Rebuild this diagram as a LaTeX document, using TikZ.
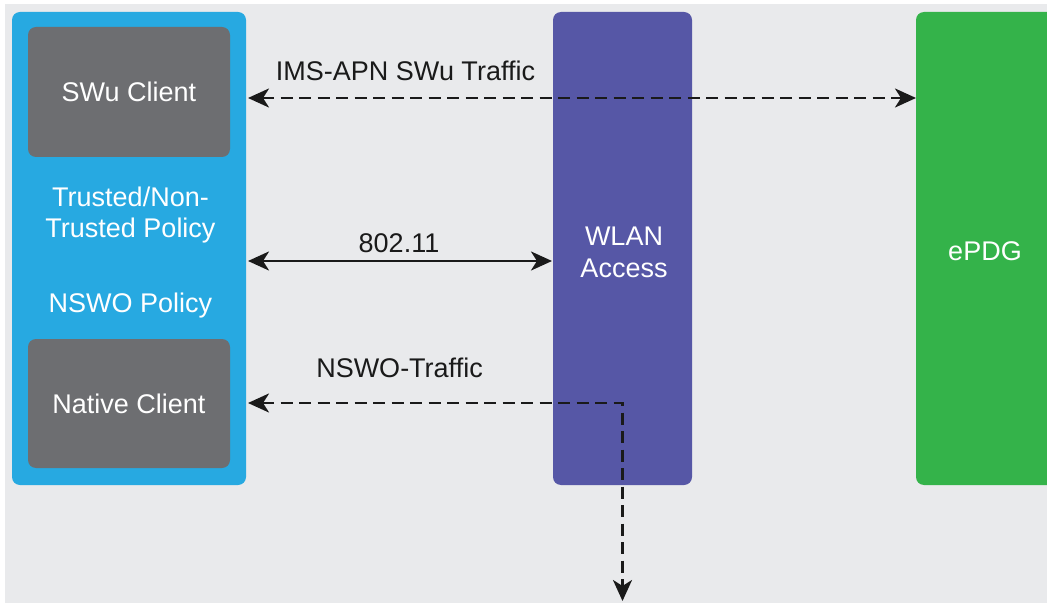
\documentclass[tikz,border=0pt]{standalone}
\usepackage{fontspec}
\setmainfont{Liberation Sans}
\usetikzlibrary{arrows.meta}
\definecolor{canvas}{HTML}{E9EAEC}
\definecolor{uecol}{HTML}{27A9E1}
\definecolor{clientcol}{HTML}{6D6E71}
\definecolor{wlancol}{HTML}{5657A6}
\definecolor{epdgcol}{HTML}{34B34A}
\definecolor{ink}{HTML}{1A1A1A}
\begin{document}
\begin{tikzpicture}[x=1pt,y=-1pt,
  panel/.style={rectangle, rounded corners=8pt, draw=none, inner sep=0pt, outer sep=0pt},
  boxtext/.style={text=white, font=\fontsize{27}{32}\selectfont, align=center, inner sep=0pt},
  lbl/.style={text=ink, font=\fontsize{27}{32}\selectfont, inner sep=0pt},
  sline/.style={draw=ink, line width=2.8pt, >={Stealth[length=21pt, width=19pt, inset=6pt]}},
  dline/.style={draw=ink, line width=2.8pt, dash pattern=on 12pt off 6.5pt, >={Stealth[length=21pt, width=19pt, inset=6pt]}},
]
\useasboundingbox (0,0) rectangle (1047,604);
\clip (0,0) rectangle (1047,604);
\fill[white] (0,0) rectangle (1047,604);
\fill[canvas] (5,4) rectangle (1047,603);

% UE device with its two clients
\node[panel, fill=uecol, minimum width=234pt, minimum height=473pt] (ue) at (129,248.5) {};
\node[panel, fill=clientcol, minimum width=202pt, minimum height=130pt, boxtext] (swu) at (129,92) {\raisebox{-1.5pt}{SWu Client}};
\node[panel, fill=clientcol, minimum width=202pt, minimum height=129pt, boxtext] (native) at (129,403.5) {\raisebox{-1.5pt}{Native Client}};
\node[boxtext, anchor=base] (pol1) at (130.5,207) {Trusted/Non-};
\node[boxtext, anchor=base] (pol2) at (130.5,238) {Trusted Policy};
\node[boxtext, anchor=base] (pol3) at (130.5,312) {NSWO Policy};

% WLAN access and ePDG
\node[panel, fill=wlancol, minimum width=139pt, minimum height=473pt] (wlan) at (622.5,248.5) {};
\node[boxtext] (wlantxt) at (624,252) {WLAN\\Access};
\node[panel, fill=epdgcol, minimum width=160pt, minimum height=473pt] (epdg) at (996,248.5) {};
\node[boxtext] (epdgtxt) at (985,251) {ePDG};

% connectors
\coordinate (exit) at (wlan.center |- 0,601);
\draw[dline, <->, shorten <=2pt] (ue.east |- 0,98) -- (epdg.west |- 0,98);
\draw[sline, <->, shorten <=2pt, shorten >=1pt] (ue.east |- 0,261) -- (wlan.west |- 0,261);
\draw[dline, <->, shorten <=2pt] (ue.east |- 0,403) -| (exit);

% connector labels
\node[lbl, anchor=base] (imslbl) at (405.5,81) {IMS-APN SWu Traffic};
\node[lbl, anchor=base] (wifilbl) at (399,252) {802.11};
\node[lbl, anchor=base] (nswolbl) at (399.5,377) {NSWO-Traffic};
\end{tikzpicture}
\end{document}
